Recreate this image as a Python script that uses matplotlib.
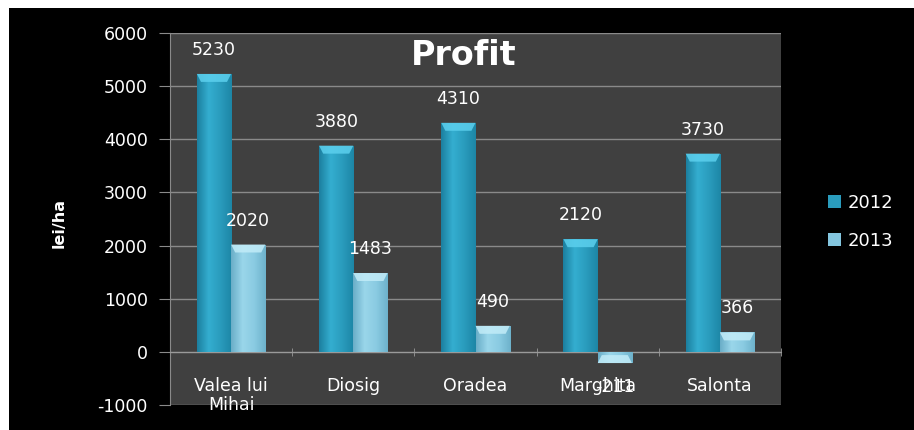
import numpy as np
import matplotlib.pyplot as plt
from matplotlib.patches import Rectangle, Polygon
from matplotlib.colors import LinearSegmentedColormap

categories = ['Valea lui\nMihai', 'Diosig', 'Oradea', 'Marghita', 'Salonta']
series = ['2012', '2013']
profit_2012 = [5230, 3880, 4310, 2120, 3730]
profit_2013 = [2020, 1483, 490, -211, 366]
yticks = [-1000, 0, 1000, 2000, 3000, 4000, 5000, 6000]

plt.rcParams['font.family'] = 'DejaVu Sans'

fig = plt.figure(figsize=(9.14, 4.30), dpi=100, facecolor='white')
# black chart area, white strip on top and left
fig.patches.append(Rectangle((9 / 914, 0), 1, 422 / 430, transform=fig.transFigure,
                             facecolor='black', edgecolor='none', zorder=-10))

ax = fig.add_axes([170 / 914, 25 / 430, 611 / 914, 372 / 430])
ax.set_facecolor('#404040')

x = np.arange(len(categories))
w = 0.28
bars12 = ax.bar(x - w / 2, profit_2012, w, color='#2a9cbd', zorder=3, label=series[0])
bars13 = ax.bar(x + w / 2, profit_2013, w, color='#84c6df', zorder=3, label=series[1])

cmap12 = LinearSegmentedColormap.from_list('c12', ['#1c7f9f', '#34aed0', '#2a9cbd', '#1d86a6'])
cmap13 = LinearSegmentedColormap.from_list('c13', ['#6aaec8', '#9ad6ea', '#8acbe2', '#6eb2cb'])
grad = np.linspace(0, 1, 64).reshape(1, -1)
bevel_h = 150  # about 8 px in data units


def shade(bars, cmap, top_col):
    for b in bars:
        x0, y0 = b.get_x(), b.get_y()
        bw, bh = b.get_width(), b.get_height()
        lo, hi = min(y0, y0 + bh), max(y0, y0 + bh)
        im = ax.imshow(grad, extent=[x0, x0 + bw, lo, hi], cmap=cmap,
                       aspect='auto', zorder=4)
        im.set_clip_path(b)
        end = y0 + bh
        d = bevel_h if bh >= 0 else -bevel_h
        inset = bw * 0.12
        ax.add_patch(Polygon([(x0, end), (x0 + bw, end),
                              (x0 + bw - inset, end - d), (x0 + inset, end - d)],
                             closed=True, facecolor=top_col, edgecolor='none',
                             alpha=0.85, zorder=5))


shade(bars12, cmap12, '#5cd0ee')
shade(bars13, cmap13, '#c2ecf8')

# data labels
for b, v in zip(bars12, profit_2012):
    ax.text(b.get_x() + b.get_width() / 2, v + 450, str(v), ha='center', va='center',
            color='white', fontsize=12.5, zorder=6)
for b, v in zip(bars13, profit_2013):
    off = 450 if v >= 0 else -450
    ax.text(b.get_x() + b.get_width() / 2, v + off, str(v), ha='center', va='center',
            color='white', fontsize=12.5, zorder=6)

ax.set_xlim(-0.5, len(categories) - 0.5)
ax.set_ylim(-1000, 6000)
ax.set_yticks(yticks)
ax.set_yticklabels([str(t) for t in yticks], color='white', fontsize=12.5)
ax.yaxis.grid(True, color='#8a8a8a', linewidth=1)
ax.set_axisbelow(True)
ax.tick_params(axis='y', length=8, color='#8a8a8a', pad=8)

ax.spines['bottom'].set_position(('data', 0))
ax.spines['bottom'].set_color('#9a9a9a')
for s in ['top', 'right']:
    ax.spines[s].set_visible(False)
ax.spines['left'].set_color('#8a8a8a')

ax.set_xticks(x)
ax.set_xticklabels(categories, color='white', fontsize=12.5, linespacing=1.1)
ax.set_xticks(np.arange(len(categories) + 1) - 0.5, minor=True)
ax.tick_params(axis='x', which='major', length=0, pad=18)
ax.tick_params(axis='x', which='minor', length=6, color='#9a9a9a', direction='inout')

ax.set_ylabel('lei/ha', color='white', fontsize=11.5, fontweight='bold')
ax.yaxis.set_label_coords(-0.17, 0.49)

ax.text(0.48, 0.94, 'Profit', transform=ax.transAxes, ha='center', va='center',
        color='white', fontsize=24, fontweight='bold', zorder=6)

leg = fig.legend(handles=[bars12, bars13], labels=series, loc='center left',
                 bbox_to_anchor=(812 / 914, 1 - 222 / 430), frameon=False,
                 fontsize=13, labelcolor='white', handlelength=0.7, handleheight=0.7,
                 handletextpad=0.4, labelspacing=1.1)

fig.savefig('out.png', dpi=100, facecolor=fig.get_facecolor())
